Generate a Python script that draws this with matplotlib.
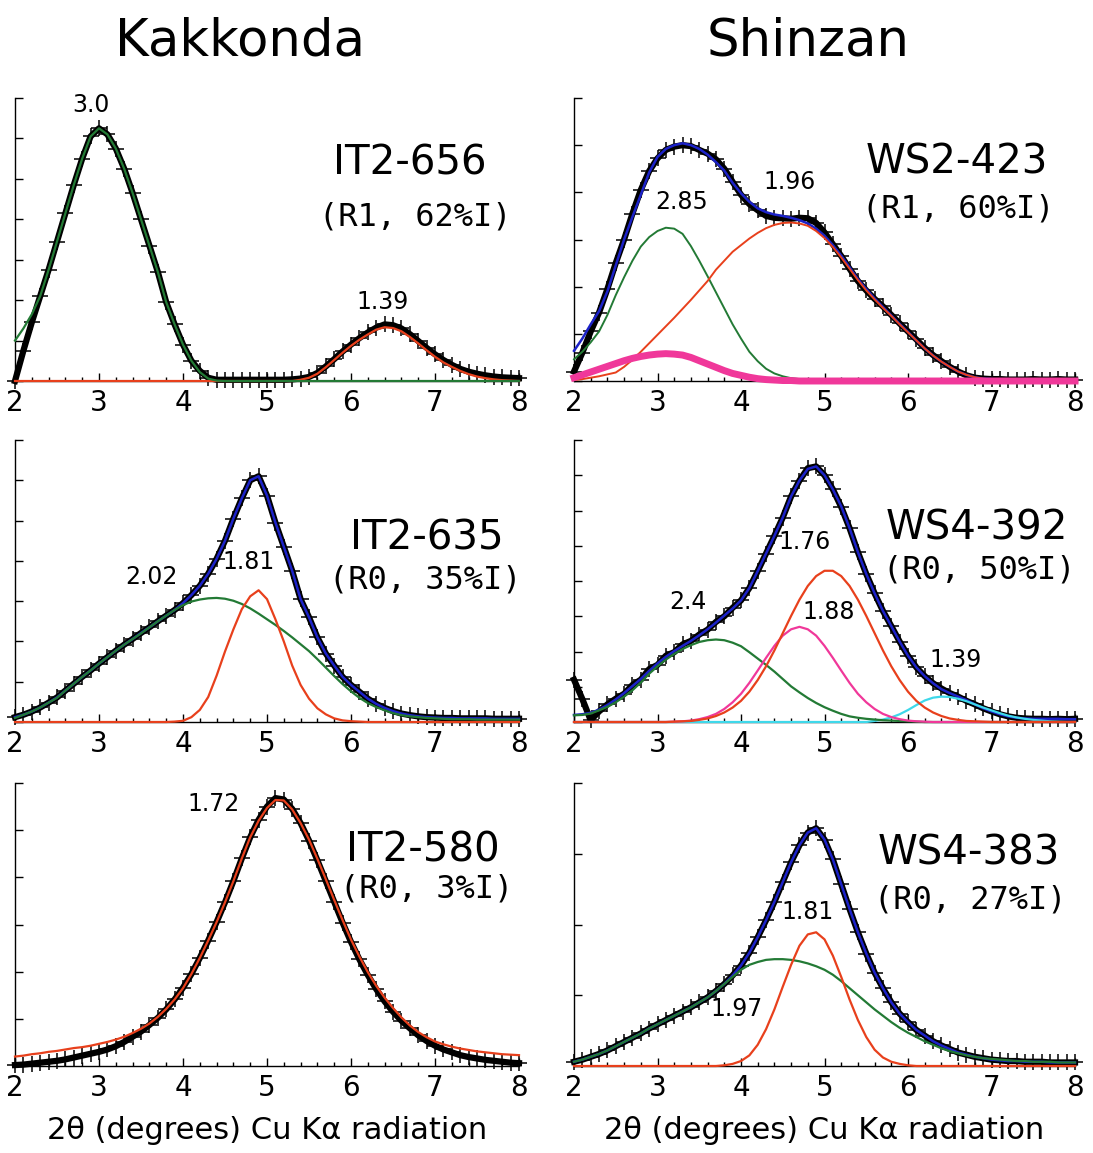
import numpy as np
import matplotlib
matplotlib.use("Agg")
import matplotlib.pyplot as plt
from matplotlib.ticker import MultipleLocator

# 2-theta grid (degrees, Cu K-alpha), one value every 0.1 deg from 2 to 8
two_theta = np.round(np.arange(2.0, 8.05, 0.1), 1)

# ---- Kakkonda IT2-656 ----
data_656 = [0.0, 0.75, 1.45, 2.1, 2.75, 3.45, 4.15, 4.85, 5.5, 6.05,
            6.25, 6.1, 5.75, 5.25, 4.65, 4.0, 3.35, 2.7, 1.95, 1.4,
            0.9, 0.5, 0.25, 0.08, 0.03, 0.03, 0.03, 0.03, 0.03, 0.03,
            0.03, 0.03, 0.03, 0.04, 0.06, 0.1, 0.2, 0.36, 0.54, 0.73,
            0.9, 1.06, 1.2, 1.32, 1.4, 1.38, 1.3, 1.16, 0.99, 0.82,
            0.66, 0.52, 0.4, 0.3, 0.23, 0.18, 0.14, 0.11, 0.09, 0.08,
            0.07]
green_656 = [1.0, 1.3, 1.65, 2.1, 2.75, 3.45, 4.15, 4.85, 5.5, 6.05,
             6.25, 6.1, 5.75, 5.25, 4.65, 4.0, 3.35, 2.7, 1.95, 1.4,
             0.9, 0.5, 0.22, 0.06, 0.01, 0, 0, 0, 0, 0,
             0, 0, 0, 0, 0, 0, 0, 0, 0, 0,
             0, 0, 0, 0, 0, 0, 0, 0, 0, 0,
             0, 0, 0, 0, 0, 0, 0, 0, 0, 0,
             0]
red_656 = [0, 0, 0, 0, 0, 0, 0, 0, 0, 0,
           0, 0, 0, 0, 0, 0, 0, 0, 0, 0,
           0, 0, 0, 0, 0, 0, 0, 0, 0, 0,
           0, 0, 0, 0, 0.03, 0.08, 0.18, 0.34, 0.52, 0.7,
           0.87, 1.02, 1.15, 1.27, 1.33, 1.31, 1.23, 1.09, 0.93, 0.76,
           0.6, 0.46, 0.35, 0.25, 0.17, 0.11, 0.07, 0.04, 0.02, 0.01,
           0.0]

# ---- Shinzan WS2-423 ----
data_423 = [0.2, 0.6, 1.05, 1.45, 1.95, 2.5, 3.0, 3.55, 4.05, 4.45,
            4.72, 4.9, 4.97, 5.0, 4.98, 4.9, 4.82, 4.7, 4.5, 4.22,
            3.95, 3.75, 3.62, 3.5, 3.46, 3.45, 3.44, 3.46, 3.45, 3.35,
            3.15, 2.9, 2.65, 2.38, 2.12, 1.92, 1.74, 1.58, 1.4, 1.22,
            1.05, 0.88, 0.7, 0.55, 0.42, 0.3, 0.2, 0.12, 0.07, 0.05,
            0.04, 0.04, 0.03, 0.03, 0.03, 0.04, 0.03, 0.03, 0.04, 0.03,
            0.03]
fit_423 = [0.64, 0.9, 1.2, 1.48, 1.9, 2.45, 3.0, 3.48, 3.95, 4.42,
           4.75, 4.92, 5.0, 5.04, 5.0, 4.92, 4.8, 4.64, 4.46, 4.2,
           3.98, 3.8, 3.66, 3.58, 3.53, 3.5, 3.46, 3.41, 3.34, 3.23,
           3.08, 2.88, 2.66, 2.41, 2.16, 1.95, 1.75, 1.57, 1.39, 1.21,
           1.04, 0.86, 0.69, 0.54, 0.41, 0.3, 0.2, 0.13, 0.08, 0.05,
           0.04, 0.03, 0.02, 0.02, 0.02, 0.02, 0.02, 0.02, 0.02, 0.02,
           0.02]
green_423 = [0.46, 0.62, 0.82, 1.05, 1.4, 1.82, 2.2, 2.55, 2.85, 3.05,
             3.18, 3.25, 3.23, 3.12, 2.86, 2.55, 2.22, 1.88, 1.54, 1.2,
             0.9, 0.62, 0.42, 0.26, 0.16, 0.1, 0.06, 0.04, 0.02, 0.01,
             0, 0, 0, 0, 0, 0, 0, 0, 0, 0,
             0, 0, 0, 0, 0, 0, 0, 0, 0, 0,
             0, 0, 0, 0, 0, 0, 0, 0, 0, 0,
             0]
red_423 = [0.02, 0.04, 0.07, 0.1, 0.14, 0.18, 0.3, 0.45, 0.62, 0.8,
           0.98, 1.16, 1.34, 1.53, 1.72, 1.92, 2.12, 2.36, 2.55, 2.74,
           2.88, 3.02, 3.14, 3.24, 3.31, 3.35, 3.36, 3.34, 3.29, 3.18,
           3.03, 2.84, 2.62, 2.38, 2.14, 1.92, 1.73, 1.55, 1.38, 1.2,
           1.03, 0.86, 0.69, 0.54, 0.41, 0.3, 0.2, 0.13, 0.08, 0.05,
           0.03, 0.02, 0.01, 0, 0, 0, 0, 0, 0, 0,
           0]
pink_423 = [0.07, 0.13, 0.19, 0.25, 0.31, 0.37, 0.43, 0.48, 0.52, 0.55,
            0.57, 0.58, 0.57, 0.55, 0.5, 0.43, 0.36, 0.29, 0.22, 0.16,
            0.12, 0.08, 0.05, 0.03, 0.02, 0.01, 0.01, 0, 0, 0,
            0, 0, 0, 0, 0, 0, 0, 0, 0, 0,
            0, 0, 0, 0, 0, 0, 0, 0, 0, 0,
            0, 0, 0, 0, 0, 0, 0, 0, 0, 0,
            0]

# ---- Kakkonda IT2-635 ----
data_635 = [0.12, 0.18, 0.26, 0.36, 0.48, 0.61, 0.78, 0.95, 1.12, 1.28,
            1.45, 1.61, 1.77, 1.92, 2.06, 2.21, 2.35, 2.5, 2.64, 2.78,
            2.95, 3.15, 3.38, 3.68, 4.05, 4.5, 5.05, 5.55, 6.0, 6.1,
            5.62, 4.95, 4.35, 3.75, 3.05, 2.6, 2.1, 1.7, 1.4, 1.12,
            0.92, 0.75, 0.58, 0.45, 0.35, 0.27, 0.21, 0.17, 0.14, 0.12,
            0.11, 0.1, 0.1, 0.09, 0.09, 0.09, 0.09, 0.08, 0.08, 0.08,
            0.08]
green_635 = [0.1, 0.18, 0.26, 0.36, 0.48, 0.6, 0.78, 0.95, 1.12, 1.28,
             1.45, 1.61, 1.77, 1.92, 2.06, 2.2, 2.35, 2.5, 2.64, 2.78,
             2.9, 2.99, 3.04, 3.07, 3.08, 3.06, 3.01, 2.93, 2.82, 2.69,
             2.55, 2.41, 2.26, 2.1, 1.93, 1.76, 1.56, 1.35, 1.14, 0.94,
             0.76, 0.6, 0.47, 0.37, 0.29, 0.22, 0.17, 0.14, 0.12, 0.1,
             0.09, 0.08, 0.07, 0.07, 0.07, 0.06, 0.06, 0.06, 0.06, 0.06,
             0.06]
red_635 = [0, 0, 0, 0, 0, 0, 0, 0, 0, 0,
           0, 0, 0, 0, 0, 0, 0, 0, 0, 0.01,
           0.03, 0.12, 0.3, 0.62, 1.15, 1.75, 2.3, 2.8, 3.12, 3.27,
           3.05, 2.55, 2.0, 1.4, 0.92, 0.58, 0.34, 0.19, 0.09, 0.04,
           0.02, 0.01, 0, 0, 0, 0, 0, 0, 0, 0,
           0, 0, 0, 0, 0, 0, 0, 0, 0, 0,
           0]

# ---- Shinzan WS4-392 ----
data_392 = [1.2, 0.65, 0.05, 0.3, 0.5, 0.66, 0.8, 1.05, 1.2, 1.5,
            1.62, 1.88, 1.98, 2.2, 2.3, 2.48, 2.62, 2.84, 3.0, 3.24,
            3.45, 3.8, 4.28, 4.78, 5.28, 5.8, 6.4, 6.85, 7.2, 7.25,
            7.0, 6.6, 6.1, 5.5, 4.82, 4.2, 3.65, 3.15, 2.72, 2.28,
            1.88, 1.55, 1.3, 1.1, 0.95, 0.82, 0.72, 0.6, 0.5, 0.39,
            0.3, 0.22, 0.16, 0.12, 0.1, 0.09, 0.09, 0.08, 0.09, 0.08,
            0.09]
fit_392 = [0.2, 0.22, 0.26, 0.35, 0.48, 0.64, 0.82, 1.02, 1.22, 1.45,
           1.66, 1.85, 2.01, 2.16, 2.3, 2.46, 2.63, 2.82, 3.02, 3.22,
           3.45, 3.8, 4.28, 4.78, 5.28, 5.8, 6.4, 6.85, 7.18, 7.25,
           7.0, 6.6, 6.12, 5.5, 4.82, 4.2, 3.65, 3.15, 2.72, 2.28,
           1.88, 1.55, 1.3, 1.1, 0.93, 0.82, 0.72, 0.62, 0.5, 0.39,
           0.3, 0.22, 0.16, 0.12, 0.1, 0.09, 0.09, 0.09, 0.09, 0.08,
           0.08]
green_392 = [0.19, 0.2, 0.24, 0.33, 0.43, 0.56, 0.72, 0.9, 1.12, 1.37,
             1.58, 1.77, 1.93, 2.07, 2.18, 2.27, 2.32, 2.34, 2.32, 2.25,
             2.15, 1.98, 1.8, 1.62, 1.43, 1.22, 1.01, 0.84, 0.68, 0.54,
             0.42, 0.32, 0.23, 0.16, 0.12, 0.09, 0.07, 0.05, 0.04, 0.03,
             0.02, 0.01, 0, 0, 0, 0, 0, 0, 0, 0,
             0, 0, 0, 0, 0, 0, 0, 0, 0, 0,
             0]
pink_392 = [0, 0, 0, 0, 0, 0, 0, 0, 0, 0,
            0, 0, 0.01, 0.02, 0.04, 0.08, 0.14, 0.23, 0.37, 0.56,
            0.8, 1.11, 1.46, 1.82, 2.16, 2.45, 2.63, 2.7, 2.63, 2.45,
            2.16, 1.82, 1.46, 1.11, 0.8, 0.56, 0.37, 0.23, 0.14, 0.08,
            0.04, 0.02, 0.01, 0, 0, 0, 0, 0, 0, 0,
            0, 0, 0, 0, 0, 0, 0, 0, 0, 0,
            0]
red_392 = [0, 0, 0, 0, 0, 0, 0, 0, 0, 0,
           0, 0, 0.01, 0.02, 0.03, 0.06, 0.1, 0.17, 0.27, 0.41,
           0.6, 0.86, 1.19, 1.58, 2.03, 2.52, 3.01, 3.47, 3.86, 4.14,
           4.29, 4.29, 4.14, 3.86, 3.47, 3.01, 2.52, 2.03, 1.58, 1.19,
           0.86, 0.6, 0.41, 0.27, 0.17, 0.1, 0.06, 0.03, 0.02, 0.01,
           0, 0, 0, 0, 0, 0, 0, 0, 0, 0,
           0]
cyan_392 = [0, 0, 0, 0, 0, 0, 0, 0, 0, 0,
            0, 0, 0, 0, 0, 0, 0, 0, 0, 0,
            0, 0, 0, 0, 0, 0, 0, 0, 0, 0,
            0, 0, 0, 0, 0, 0, 0.03, 0.07, 0.13, 0.22,
            0.34, 0.48, 0.61, 0.69, 0.72, 0.71, 0.66, 0.59, 0.5, 0.41,
            0.33, 0.25, 0.18, 0.13, 0.09, 0.06, 0.04, 0.02, 0.01, 0,
            0]

# ---- Kakkonda IT2-580 ----
data_580 = [0.02, 0.03, 0.05, 0.07, 0.09, 0.11, 0.14, 0.18, 0.22, 0.26,
            0.3, 0.35, 0.42, 0.51, 0.62, 0.73, 0.87, 1.02, 1.2, 1.41,
            1.66, 1.95, 2.29, 2.66, 3.05, 3.47, 3.92, 4.4, 4.85, 5.22,
            5.5, 5.68, 5.65, 5.45, 5.15, 4.78, 4.36, 3.92, 3.48, 3.04,
            2.63, 2.26, 1.93, 1.63, 1.37, 1.15, 0.96, 0.8, 0.65, 0.53,
            0.43, 0.35, 0.29, 0.23, 0.19, 0.16, 0.13, 0.11, 0.09, 0.07,
            0.06]
red_580 = [0.2, 0.22, 0.25, 0.27, 0.3, 0.32, 0.35, 0.38, 0.4, 0.43,
           0.47, 0.51, 0.56, 0.62, 0.7, 0.79, 0.9, 1.04, 1.21, 1.41,
           1.65, 1.95, 2.29, 2.66, 3.05, 3.47, 3.92, 4.4, 4.85, 5.2,
           5.47, 5.64, 5.63, 5.44, 5.15, 4.8, 4.39, 3.96, 3.52, 3.09,
           2.68, 2.32, 1.99, 1.7, 1.45, 1.23, 1.03, 0.86, 0.72, 0.61,
           0.52, 0.46, 0.41, 0.37, 0.34, 0.31, 0.29, 0.27, 0.25, 0.24,
           0.23]

# ---- Shinzan WS4-383 ----
data_383 = [0.06, 0.09, 0.13, 0.17, 0.22, 0.28, 0.34, 0.4, 0.46, 0.53,
            0.59, 0.65, 0.71, 0.77, 0.83, 0.9, 0.97, 1.06, 1.16, 1.28,
            1.42, 1.6, 1.82, 2.06, 2.32, 2.6, 2.88, 3.12, 3.3, 3.36,
            3.2, 2.92, 2.57, 2.22, 1.89, 1.59, 1.32, 1.1, 0.9, 0.74,
            0.62, 0.51, 0.43, 0.35, 0.29, 0.24, 0.19, 0.16, 0.13, 0.11,
            0.09, 0.08, 0.07, 0.07, 0.06, 0.06, 0.06, 0.05, 0.05, 0.05,
            0.05]
green_383 = [0.06, 0.09, 0.13, 0.17, 0.22, 0.28, 0.34, 0.4, 0.46, 0.53,
             0.59, 0.65, 0.71, 0.77, 0.83, 0.9, 0.97, 1.06, 1.16, 1.26,
             1.36, 1.43, 1.47, 1.5, 1.51, 1.51, 1.5, 1.48, 1.45, 1.41,
             1.36, 1.29, 1.2, 1.1, 1.0, 0.9, 0.8, 0.71, 0.62, 0.54,
             0.47, 0.41, 0.35, 0.3, 0.25, 0.21, 0.18, 0.15, 0.13, 0.11,
             0.1, 0.09, 0.08, 0.07, 0.07, 0.06, 0.06, 0.06, 0.05, 0.05,
             0.05]
red_383 = [0, 0, 0, 0, 0, 0, 0, 0, 0, 0,
           0, 0, 0, 0, 0, 0, 0, 0, 0.01, 0.03,
           0.07, 0.15, 0.3, 0.52, 0.8, 1.12, 1.43, 1.7, 1.86, 1.89,
           1.79, 1.56, 1.26, 0.94, 0.65, 0.41, 0.23, 0.12, 0.06, 0.03,
           0.01, 0, 0, 0, 0, 0, 0, 0, 0, 0,
           0, 0, 0, 0, 0, 0, 0, 0, 0, 0,
           0]

GREEN = '#237a35'
RED = '#e8401c'
BLUE = '#1c22c8'
PINK = '#f0389a'
CYAN = '#3ed8ea'

XLABEL = '2\u03b8 (degrees) Cu K\u03b1 radiation'


def setup_axes(ax, ymax, xlabel=False):
    ax.set_xlim(2, 8)
    ax.set_ylim(0, ymax)
    for side in ('top', 'right'):
        ax.spines[side].set_visible(False)
    ax.spines['left'].set_linewidth(1.0)
    ax.spines['bottom'].set_linewidth(1.0)
    ax.xaxis.set_major_locator(MultipleLocator(1))
    ax.xaxis.set_minor_locator(MultipleLocator(0.2))
    ax.yaxis.set_major_locator(MultipleLocator(1))
    ax.tick_params(axis='x', which='major', direction='in', length=6,
                   width=1, labelsize=20, pad=6)
    ax.tick_params(axis='x', which='minor', direction='in', length=3, width=1)
    ax.tick_params(axis='y', direction='in', length=6, width=1, labelleft=False)
    if xlabel:
        ax.set_xlabel(XLABEL, fontsize=22, labelpad=10)


def draw_pattern(ax, data, curves):
    # measured pattern as a band of crosses, fitted curves on top
    ax.plot(two_theta, data, color='black', lw=4.5, clip_on=False, zorder=2)
    ax.plot(two_theta, data, '+', color='black', ms=11, mew=1.1,
            clip_on=False, zorder=2)
    for values, color, lw in curves:
        ax.plot(two_theta, values, color=color, lw=lw, clip_on=False, zorder=3)


def label_panel(ax, name, sub, name_xy, sub_xy, peaks):
    ax.text(*name_xy, name, fontsize=29, ha='center', va='center')
    ax.text(*sub_xy, sub, fontsize=23, ha='center', va='center',
            family='DejaVu Sans Mono')
    for txt, x, y in peaks:
        ax.text(x, y, txt, fontsize=17, ha='center', va='center', zorder=5)


fig = plt.figure(figsize=(10.93, 11.53), dpi=100)

left_x, left_w = 15 / 1093, 504 / 1093
right_x, right_w = 574 / 1093, 501 / 1093
rows = [(1 - 381 / 1153, 283 / 1153),
        (1 - 722 / 1153, 282 / 1153),
        (1 - 1066 / 1153, 283 / 1153)]

# row 1
ax = fig.add_axes([left_x, rows[0][0], left_w, rows[0][1]])
setup_axes(ax, 7)
draw_pattern(ax, data_656, [(red_656, RED, 1.6), (green_656, GREEN, 1.6)])
label_panel(ax, 'IT2-656', '(R1, 62%I)', (6.7, 5.39), (6.76, 4.06),
            [('3.0', 2.9, 6.83), ('1.39', 6.37, 1.95)])

ax = fig.add_axes([right_x, rows[0][0], right_w, rows[0][1]])
setup_axes(ax, 6)
draw_pattern(ax, data_423, [(fit_423, BLUE, 1.8), (green_423, GREEN, 1.4),
                            (red_423, RED, 1.4), (pink_423, PINK, 5.0)])
label_panel(ax, 'WS2-423', '(R1, 60%I)', (6.58, 4.64), (6.6, 3.64),
            [('2.85', 3.29, 3.79), ('1.96', 4.58, 4.21)])

# row 2
ax = fig.add_axes([left_x, rows[1][0], left_w, rows[1][1]])
setup_axes(ax, 7)
draw_pattern(ax, data_635, [(data_635, BLUE, 1.8), (green_635, GREEN, 1.6),
                            (red_635, RED, 1.6)])
label_panel(ax, 'IT2-635', '(R0, 35%I)', (6.9, 4.56), (6.88, 3.52),
            [('2.02', 3.62, 3.6), ('1.81', 4.78, 3.98)])

ax = fig.add_axes([right_x, rows[1][0], right_w, rows[1][1]])
setup_axes(ax, 8)
draw_pattern(ax, data_392, [(fit_392, BLUE, 1.8), (cyan_392, CYAN, 1.6),
                            (green_392, GREEN, 1.6), (pink_392, PINK, 1.6),
                            (red_392, RED, 1.6)])
label_panel(ax, 'WS4-392', '(R0, 50%I)', (6.83, 5.49), (6.85, 4.31),
            [('2.4', 3.37, 3.41), ('1.76', 4.76, 5.11),
             ('1.88', 5.05, 3.13), ('1.39', 6.57, 1.75)])

# row 3
ax = fig.add_axes([left_x, rows[2][0], left_w, rows[2][1]])
setup_axes(ax, 6, xlabel=True)
draw_pattern(ax, data_580, [(red_580, RED, 1.6)])
label_panel(ax, 'IT2-580', '(R0, 3%I)', (6.86, 4.57), (6.9, 3.75),
            [('1.72', 4.36, 5.56)])

ax = fig.add_axes([right_x, rows[2][0], right_w, rows[2][1]])
setup_axes(ax, 4, xlabel=True)
draw_pattern(ax, data_383, [(data_383, BLUE, 1.8), (green_383, GREEN, 1.6),
                            (red_383, RED, 1.6)])
label_panel(ax, 'WS4-383', '(R0, 27%I)', (6.73, 3.0), (6.75, 2.34),
            [('1.81', 4.8, 2.17), ('1.97', 3.95, 0.8)])

# column headings
fig.text(240 / 1093, 1 - 55 / 1153, 'Kakkonda', fontsize=37,
         ha='center', va='baseline')
fig.text(808 / 1093, 1 - 55 / 1153, 'Shinzan', fontsize=37,
         ha='center', va='baseline')

fig.savefig('out.png', dpi=100)
